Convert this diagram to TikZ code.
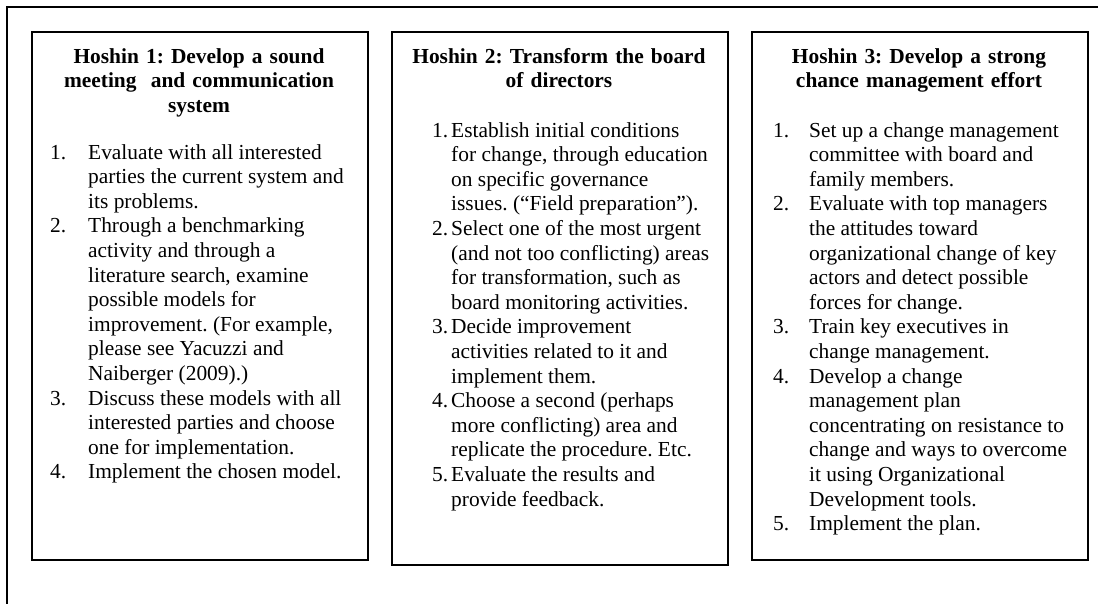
\documentclass[tikz,border=0pt]{standalone}
\usepackage{fontspec}
\setmainfont{Liberation Serif}
\frenchspacing
\tikzset{
  boxframe/.style={draw, line width=2pt, inner sep=0pt, anchor=north west,
    minimum width=336pt},
  headtext/.style={font=\fontsize{21.4}{24.6}\selectfont\bfseries\frenchspacing, align=center,
    text width=330pt, inner sep=0pt, anchor=base},
  bodytext/.style={font=\fontsize{21.4}{24.6}\selectfont\frenchspacing, inner sep=0pt,
    anchor=base west},
  frameline/.style={line width=1.6pt, line cap=rect}
}
\begin{document}
\begin{tikzpicture}[x=1pt, y=-1pt]
\useasboundingbox (0,0) rectangle (1098,603);
% outer frame (only left and top edges visible)
\draw[frameline] (7,603) -- (7,7) -- (1098,7);

% boxes
\node[boxframe, minimum height=528pt] (box1) at (31,31) {};
\node[boxframe, minimum height=533pt] (box2) at (391,31) {};
\node[boxframe, minimum height=528pt] (box3) at (751,31) {};

% headings
\node[headtext] (h1) at (199,63) {Hoshin 1: Develop a sound\\meeting~ and communication\\system};
\node[headtext] (h2) at (559,63) {Hoshin 2: Transform the board\\of directors};
\node[headtext] (h3) at (919,63) {Hoshin 3: Develop a strong\\chance management effort};

% bodies
\node[bodytext] (b1) at (50,159) {\begin{tabular}[t]{@{}p{38pt}@{}l@{}}
1. & Evaluate with all interested\\
   & parties the current system and\\
   & its problems.\\
2. & Through a benchmarking\\
   & activity and through a\\
   & literature search, examine\\
   & possible models for\\
   & improvement. (For example,\\
   & please see Yacuzzi and\\
   & Naiberger (2009).)\\
3. & Discuss these models with all\\
   & interested parties and choose\\
   & one for implementation.\\
4. & Implement the chosen model.
\end{tabular}};

\node[bodytext] (b2) at (432,137) {\begin{tabular}[t]{@{}p{19pt}@{}l@{}}
1. & Establish initial conditions\\
   & for change, through education\\
   & on specific governance\\
   & issues. (“Field preparation”).\\
2. & Select one of the most urgent\\
   & (and not too conflicting) areas\\
   & for transformation, such as\\
   & board monitoring activities.\\
3. & Decide improvement\\
   & activities related to it and\\
   & implement them.\\
4. & Choose a second (perhaps\\
   & more conflicting) area and\\
   & replicate the procedure. Etc.\\
5. & Evaluate the results and\\
   & provide feedback.
\end{tabular}};

\node[bodytext] (b3) at (773,137) {\begin{tabular}[t]{@{}p{36pt}@{}l@{}}
1. & Set up a change management\\
   & committee with board and\\
   & family members.\\
2. & Evaluate with top managers\\
   & the attitudes toward\\
   & organizational change of key\\
   & actors and detect possible\\
   & forces for change.\\
3. & Train key executives in\\
   & change management.\\
4. & Develop a change\\
   & management plan\\
   & concentrating on resistance to\\
   & change and ways to overcome\\
   & it using Organizational\\
   & Development tools.\\
5. & Implement the plan.
\end{tabular}};
\end{tikzpicture}
\end{document}
